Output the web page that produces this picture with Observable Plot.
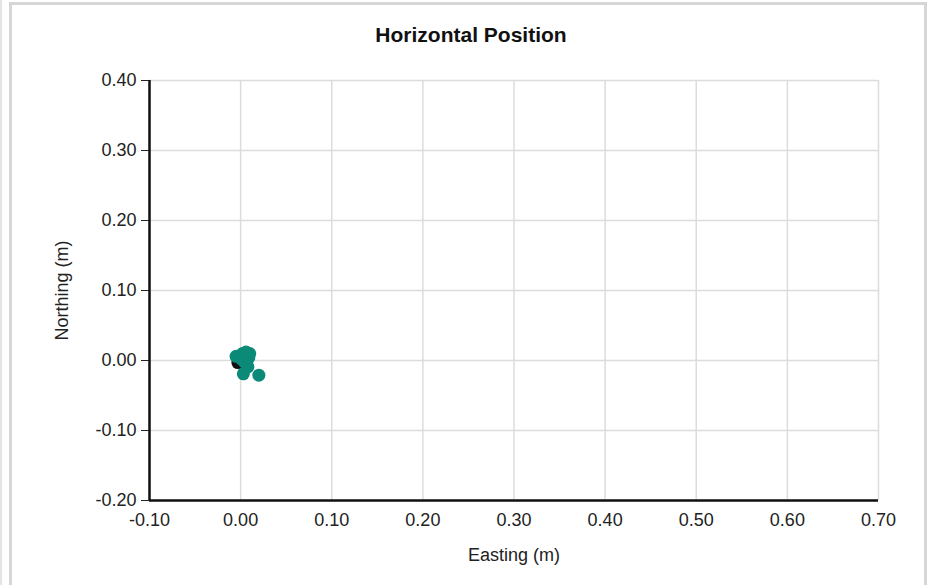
<!DOCTYPE html>
<html><head><meta charset="utf-8">
<script src="https://cdn.jsdelivr.net/npm/d3@7"></script>
<script src="https://cdn.jsdelivr.net/npm/@observablehq/plot@0.6"></script>
<style>
body{margin:0;background:#fff;font-family:"Liberation Sans",Arial,sans-serif;}
#wrap{position:relative;width:937px;height:585px;overflow:hidden;}
#frame{position:absolute;left:9px;top:2px;width:918px;height:600px;border:3px solid #d6d6d6;box-sizing:border-box;}
#edge{position:absolute;left:0px;top:0;width:2px;height:585px;background:#e4e4e4;}
#title{position:absolute;left:0;top:23px;width:942px;text-align:center;font-weight:bold;font-size:21px;line-height:24px;color:#111;}
#chart{position:absolute;left:0;top:0;}
</style></head>
<body><div id="wrap"><div id="edge"></div><div id="frame"></div><div id="title">Horizontal Position</div><div id="chart"></div></div>
<script>
const xTicks = [-0.1,0,0.1,0.2,0.3,0.4,0.5,0.6,0.7];
const yTicks = [-0.2,-0.1,0,0.1,0.2,0.3,0.4];
const refEasting = [-0.003];
const refNorthing = [-0.003];
const easting = [-0.005, 0.002, 0.006, 0.010, 0.009, 0.004, 0.008, 0.003, 0.020, 0.001];
const northing = [0.006, 0.010, 0.012, 0.010, 0.004, -0.002, -0.009, -0.019, -0.021, 0.002];

const ref = refEasting.map((e,i)=>({e, n: refNorthing[i]}));
const pts = easting.map((e,i)=>({e, n: northing[i]}));
const fmt = d => d3.format(".2f")(d).replace("\u2212", "-");

const chart = Plot.plot({
  width: 937, height: 585,
  marginLeft: 149, marginRight: 59, marginTop: 80, marginBottom: 85,
  style: {fontFamily: '"Liberation Sans", Arial, sans-serif', fontSize: "19px", color: "#222", background: "transparent"},
  x: {domain: [-0.1, 0.7]},
  y: {domain: [-0.2, 0.4]},
  marks: [
    Plot.gridX(xTicks, {stroke: "#dcdcdc", strokeOpacity: 1, strokeWidth: 1.5}),
    Plot.gridY(yTicks, {stroke: "#dcdcdc", strokeOpacity: 1, strokeWidth: 1.5}),
    Plot.axisX(xTicks, {tickFormat: fmt, fontSize: 18, tickSize: 0, tickPadding: 13, label: "Easting (m)", labelAnchor: "center", labelArrow: "none", labelOffset: 60}),
    Plot.axisY(yTicks, {tickFormat: fmt, fontSize: 18, tickSize: 8, tickPadding: 5, label: "Northing (m)", labelAnchor: "center", labelArrow: "none", labelOffset: 94}),
    Plot.ruleX([-0.1], {stroke: "#111", strokeWidth: 2.5}),
    Plot.ruleY([-0.2], {stroke: "#111", strokeWidth: 2.5}),
    Plot.dot(ref, {x: "e", y: "n", r: 6.5, fill: "#111", stroke: "none"}),
    Plot.dot(pts, {x: "e", y: "n", r: 6.5, fill: "#0b8a78", stroke: "none"})
  ]
});
document.getElementById("chart").appendChild(chart);
</script>
</body></html>
